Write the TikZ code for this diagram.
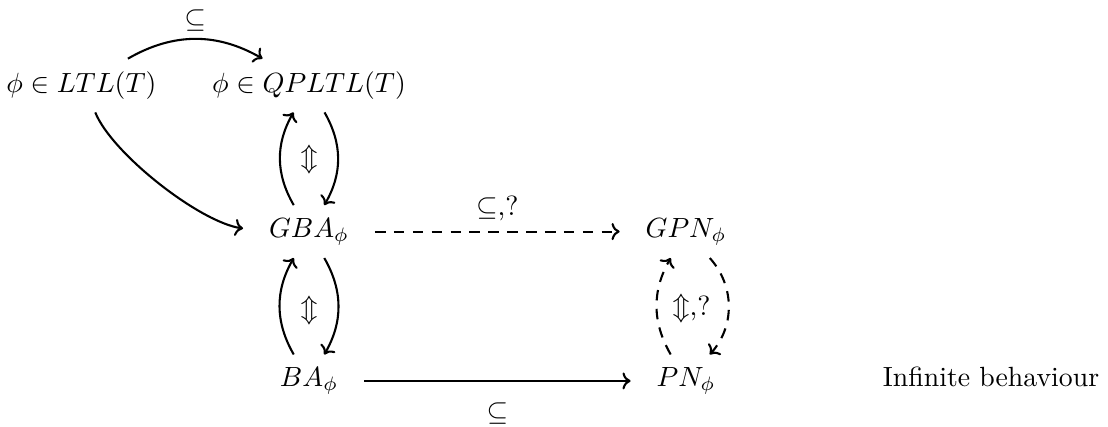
\documentclass[tikz,border=0pt]{standalone}
\usetikzlibrary{arrows.meta}
\begin{document}
\begin{tikzpicture}[>={Computer Modern Rightarrow[scale=0.9]}, line width=0.75pt,
  cell/.style={inner xsep=9pt, inner ysep=4.3pt, anchor=base},
  dsh/.style={dash pattern=on 3.8pt off 3pt}]
  \useasboundingbox (0,0) rectangle (14.02,5.40);
  % Formulas and automata
  \node[cell] (ltl) at (1.03,4.23) {$\phi \in LTL(T)$};
  \node[cell] (qpltl) at (3.91,4.23) {$\phi \in QPLTL(T)$};
  \node[cell] (gba) at (3.91,2.40) {$GBA_\phi$};
  \node[cell] (gpn) at (8.68,2.40) {$GPN_\phi$};
  \node[cell] (ba) at (3.91,0.51) {$BA_\phi$};
  \node[cell] (pn) at (8.68,0.51) {$PN_\phi$};
  \node[cell] (inf) at (12.54,0.51) {Infinite behaviour};
  % Equivalences
  \node (eqa) at (3.91,3.38) {$\Updownarrow$};
  \node (eqb) at (3.91,1.47) {$\Updownarrow$};
  \node (eqc) at (8.75,1.49) {$\Updownarrow$,?};
  % Translations
  \draw[->] (ltl) to[bend left=30] node[above, inner sep=2.5pt] {$\subseteq$} (qpltl);
  \draw[->] (ltl) to[bend right=30, looseness=0.6] (gba);
  \draw[->] (gba) to[bend left=30] (qpltl);
  \draw[->] (qpltl) to[bend left=30] (gba);
  \draw[->] (ba) to[bend left=30] (gba);
  \draw[->] (gba) to[bend left=30] (ba);
  \draw[->, dsh] (gba) -- node[above] {$\subseteq$,?} (gpn);
  \draw[->] (ba) -- node[below=4pt] {$\subseteq$} (pn);
  \draw[->, dsh] (pn) to[bend left=30] (gpn);
  \draw[->, dsh] (gpn) to[bend left=42] (pn);
\end{tikzpicture}
\end{document}
